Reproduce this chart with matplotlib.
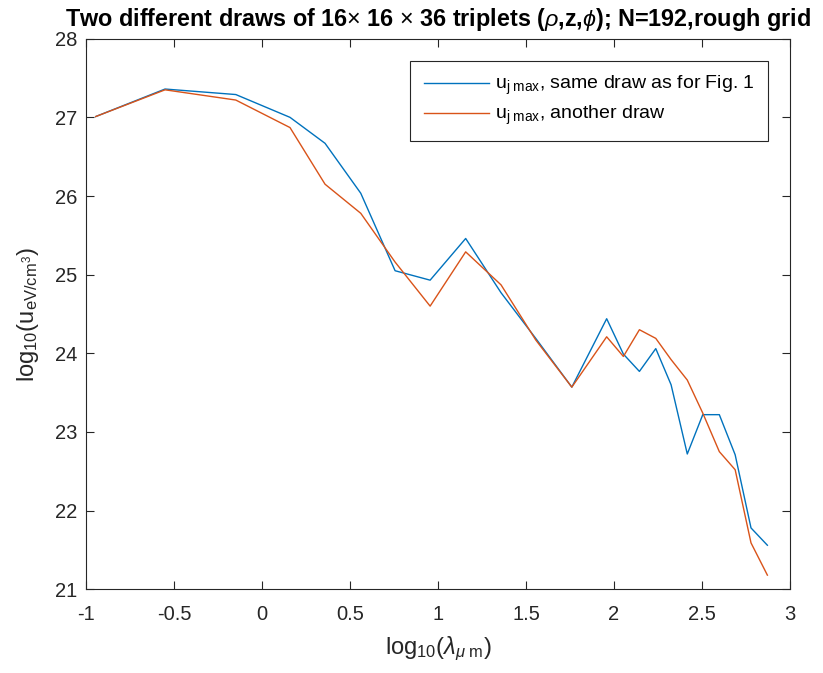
import numpy as np
import matplotlib
matplotlib.use("Agg")
import matplotlib.pyplot as plt

plt.rcParams['font.family'] = ['Liberation Sans', 'DejaVu Sans']
plt.rcParams['mathtext.fontset'] = 'custom'
plt.rcParams['mathtext.rm'] = 'Liberation Sans'
plt.rcParams['mathtext.it'] = 'Liberation Sans:italic'
plt.rcParams['mathtext.bf'] = 'Liberation Sans:bold'

# log10 of wavelength (um)
log_lambda = [-0.945, -0.551, -0.149, 0.159, 0.358, 0.561, 0.756, 0.955, 1.157,
              1.358, 1.555, 1.760, 1.958, 2.053, 2.144, 2.237, 2.324, 2.416,
              2.504, 2.598, 2.688, 2.778, 2.871]

# u_j max, same draw as for Fig. 1
u_same = [27.01, 27.36, 27.29, 27.00, 26.67, 26.035, 25.05, 24.93, 25.46,
          24.77, 24.19, 23.57, 24.44, 23.99, 23.77, 24.06, 23.60, 22.72,
          23.22, 23.22, 22.71, 21.78, 21.56]

# u_j max, another draw
u_other = [27.01, 27.35, 27.22, 26.87, 26.15, 25.78, 25.16, 24.60, 25.29,
           24.87, 24.17, 23.57, 24.21, 23.96, 24.30, 24.19, 23.92, 23.66,
           23.24, 22.75, 22.52, 21.59, 21.18]

blue = '#0072BD'
orange = '#D95319'
axcol = '#262626'

fig = plt.figure(figsize=(8.23, 6.73), dpi=100)
ax = fig.add_axes([0.1045, 0.1244, 0.8555, 0.8181])

ax.plot(log_lambda, u_same, color=blue, lw=1.0,
        label=r'u$_{\mathrm{j\ max}}$, same draw as for Fig. 1')
ax.plot(log_lambda, u_other, color=orange, lw=1.0,
        label=r'u$_{\mathrm{j\ max}}$, another draw')

ax.set_xlim(-1, 3)
ax.set_ylim(21, 28)
ax.set_xticks(np.arange(-1, 3.01, 0.5))
ax.set_xticklabels(['-1', '-0.5', '0', '0.5', '1', '1.5', '2', '2.5', '3'])
ax.set_yticks(range(21, 29))

for s in ax.spines.values():
    s.set_color(axcol)
    s.set_linewidth(0.8)
ax.tick_params(direction='in', top=True, right=True, length=6, width=0.8,
               color=axcol, labelcolor=axcol, labelsize=14.5, pad=6)
ax.tick_params(axis='x', pad=11)

ax.set_xlabel(r'log$_{10}$($\lambda_{\mu\ \mathrm{m}}$)', fontsize=17, color=axcol,
              labelpad=8)
ax.set_ylabel(r'log$_{10}$(u$_{\mathrm{eV/cm}^3}$)', fontsize=17, color=axcol,
              labelpad=10)
ax.set_title(r'Two different draws of 16$\times$ 16 $\times$ 36 triplets ($\rho$,z,$\phi$); N=192,rough grid',
             fontsize=16.8, fontweight='bold', pad=9)

leg = ax.legend(loc='upper right', fontsize=14, fancybox=False, framealpha=1,
                edgecolor=axcol, borderaxespad=1.13, handlelength=3.35,
                handletextpad=0.3, borderpad=0.7, labelspacing=0.35)
leg.get_frame().set_linewidth(0.8)

fig.savefig('out.png', dpi=100)
